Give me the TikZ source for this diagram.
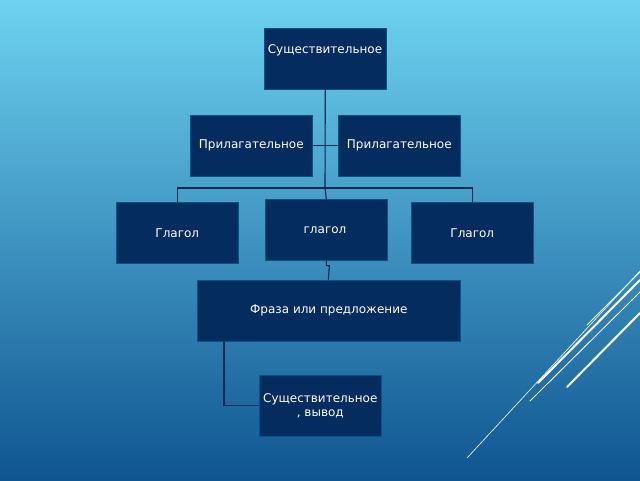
\documentclass[tikz,border=0pt]{standalone}
\usepackage{fontspec}
\setmainfont{DejaVu Sans}
\definecolor{boxc}{RGB}{5,44,94}
\definecolor{linec}{RGB}{10,40,80}
\definecolor{bgtop}{RGB}{110,210,240}
\definecolor{bgbot}{RGB}{15,85,145}
\tikzset{
 box/.style={fill=boxc,draw=boxc!80!cyan,line width=0.6pt,minimum width=122pt,minimum height=61pt,anchor=north west,text=white,font=\fontsize{12}{14}\selectfont,inner sep=0pt,align=center},
 lbl/.style={text=white,font=\fontsize{12}{14}\selectfont},
 conn/.style={draw=linec,line width=1.1pt},
 deco/.style={draw=white,line cap=round}
}
\begin{document}
\begin{tikzpicture}[x=1pt,y=-1pt]
\useasboundingbox (0,0) rectangle (640,480);
\shade[shading angle=225,top color=bgtop,bottom color=bgbot] (0,0) rectangle (640,480);
% decorative lines
\draw[deco,line width=0.6pt] (467,458) -- (640,271);
\draw[deco,line width=2pt] (538,383) -- (640,280);
\draw[deco,line width=0.8pt] (530,401) -- (640,292);
\draw[deco,line width=2pt] (567,387) -- (640,313);
\draw[deco,line width=0.8pt] (587,325) -- (640,272);
% boxes
\node[box] (n1) at (264,28) {};
\node[lbl] at (325,50) {Существительное};
\node[box] (a1) at (190,115) {Прилагательное};
\node[box] (a2) at (338,115) {Прилагательное};
\node[box] (v1) at (116,202) {Глагол};
\node[box] (v2) at (265,199) {};
\node[lbl] at (325,230) {глагол};
\node[box] (v3) at (411,202) {Глагол};
\node[box,minimum width=263pt] (p) at (197,280) {Фраза или предложение};
\node[box] (n2) at (259,375) {Существительное\\, вывод};
% connectors
\coordinate (t1) at (325,188);
\draw[conn] (n1.south) -- (t1);
\draw[conn] (a1.east) -- (a2.west);
\draw[conn] (v1.north) |- (t1) -| (v3.north);
\draw[conn] (t1) -- (v2.north);
\draw[conn] (v2.south) -- ++(0,5) -- ++(3,0) -- ([xshift=-0.5pt]p.north);
\draw[conn] ([xshift=27pt]p.south west) |- (n2.west);
\end{tikzpicture}
\end{document}
